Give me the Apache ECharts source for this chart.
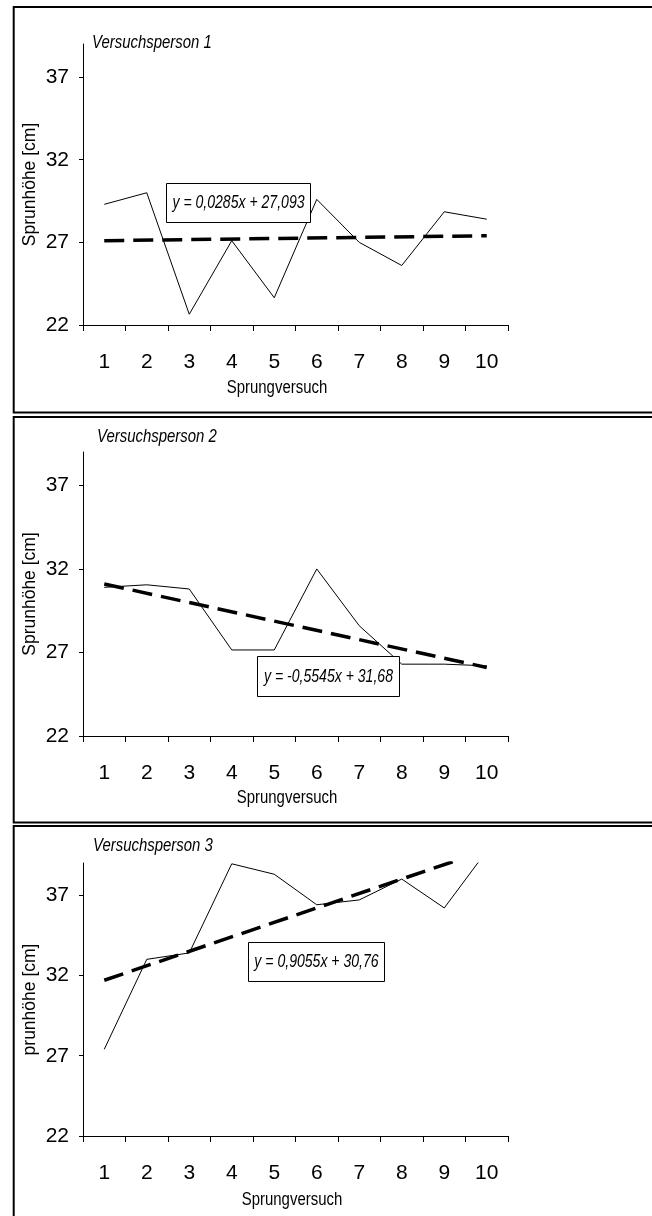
<!DOCTYPE html>
<html>
<head>
<meta charset="utf-8">
<script src="https://cdn.jsdelivr.net/npm/echarts@6/dist/echarts.min.js"></script>
<style>
html,body{margin:0;padding:0;background:#fff;}
#chart{width:652px;height:1216px;}
</style>
</head>
<body>
<div id="chart"></div>
<script>
const categories = ['1','2','3','4','5','6','7','8','9','10'];
const yTicks = [22, 27, 32, 37];
const panelTitles = ['Versuchsperson 1', 'Versuchsperson 2', 'Versuchsperson 3'];
const yNames = ['Sprunhöhe [cm]', 'Sprunhöhe [cm]', 'prunhöhe [cm]'];
const xName = 'Sprungversuch';
const equations = ['y = 0,0285x + 27,093', 'y = -0,5545x + 31,68', 'y = 0,9055x + 30,76'];

const person1 = [29.3, 30.0, 22.65, 27.1, 23.65, 29.6, 27.0, 25.6, 28.85, 28.4];
const person2 = [30.9, 31.05, 30.8, 27.15, 27.15, 32.0, 28.6, 26.3, 26.3, 26.2];
const person3 = [27.4, 33.0, 33.4, 38.95, 38.3, 36.4, 36.7, 38.0, 36.2, 39.75];

const trend1 = [27.1, 27.4];
const trend2 = [31.1, 26.1];
const trend3 = [31.7, 39.8];

const FONT = "'Liberation Sans', Arial, sans-serif";

const grids = [
  {left: 83, width: 425, top: 44, height: 281},
  {left: 83, width: 425, top: 452, height: 284},
  {left: 83, width: 425, top: 863, height: 273}
];
const titlePos = [{x: 92, y: 43}, {x: 97, y: 437}, {x: 93, y: 846}];
const xNamePos = [{x: 277, y: 388}, {x: 287, y: 798}, {x: 292, y: 1200}];
const boxes = [
  {x: 166, y: 183, w: 144, h: 39},
  {x: 257, y: 656, w: 142, h: 40},
  {x: 248, y: 942, w: 136, h: 39}
];
const frames = [
  {y: 7, h: 405.5},
  {y: 417, h: 405.5},
  {y: 826, h: 500}
];

const values = [person1, person2, person3];
const trends = [trend1, trend2, trend3];

const xAxes = [], yAxes = [], series = [], graphics = [];
for (let i = 0; i < 3; i++) {
  xAxes.push({
    type: 'category', gridIndex: i, data: categories, boundaryGap: true,
    axisLine: {lineStyle: {color: '#000', width: 1}},
    axisTick: {show: true, length: 6, alignWithLabel: false, lineStyle: {color: '#000'}},
    axisLabel: {color: '#000', fontSize: 21, fontFamily: FONT, margin: 27},
    splitLine: {show: false}
  });
  yAxes.push({
    type: 'value', gridIndex: i, min: 22, max: 39, interval: 5,
    axisLine: {show: true, lineStyle: {color: '#000', width: 1}},
    axisTick: {show: true, length: 4, customValues: yTicks, lineStyle: {color: '#000'}},
    axisLabel: {color: '#000', fontSize: 21, fontFamily: FONT, margin: 14, customValues: yTicks},
    name: yNames[i], nameLocation: 'middle', nameGap: 44, nameRotate: 90, nameMoveOverlap: false,
    nameTextStyle: {color: '#000', fontSize: 17.5, fontFamily: FONT},
    splitLine: {show: false}
  });
  series.push({
    type: 'line', xAxisIndex: i, yAxisIndex: i, data: values[i],
    showSymbol: false, symbol: 'none', clip: true,
    lineStyle: {color: '#000', width: 1}, z: 2
  });
  series.push({
    type: 'line', xAxisIndex: i, yAxisIndex: i,
    data: [[categories[0], trends[i][0]], [categories[categories.length - 1], trends[i][1]]],
    showSymbol: false, symbol: 'none', clip: true,
    lineStyle: {color: '#000', width: 3.5, type: [20, 9]}, z: 3
  });
  graphics.push({
    type: 'rect', shape: {x: 13.7, y: frames[i].y, width: 700, height: frames[i].h},
    style: {fill: null, stroke: '#000', lineWidth: 2}, z: 1, silent: true
  });
  graphics.push({
    type: 'text', x: titlePos[i].x, y: titlePos[i].y, scaleX: 0.83, z: 5,
    style: {text: panelTitles[i], fill: '#000', font: 'italic 18px ' + FONT, align: 'left', verticalAlign: 'middle'}
  });
  graphics.push({
    type: 'text', x: xNamePos[i].x, y: xNamePos[i].y, scaleX: 0.83, z: 5,
    style: {text: xName, fill: '#000', font: '18px ' + FONT, align: 'center', verticalAlign: 'middle'}
  });
  graphics.push({
    type: 'rect', shape: {x: boxes[i].x + 0.5, y: boxes[i].y + 0.5, width: boxes[i].w, height: boxes[i].h},
    style: {fill: '#fff', stroke: '#000', lineWidth: 1}, z: 10
  });
  graphics.push({
    type: 'text', x: boxes[i].x + boxes[i].w / 2 + 0.5, y: boxes[i].y + boxes[i].h / 2 + 0.5, scaleX: 0.76, z: 11,
    style: {text: equations[i], fill: '#000', font: 'italic 18.5px ' + FONT, align: 'center', verticalAlign: 'middle'}
  });
}

const chart = echarts.init(document.getElementById('chart'), null, {renderer: 'canvas'});
chart.setOption({
  animation: false,
  backgroundColor: '#fff',
  grid: grids,
  xAxis: xAxes,
  yAxis: yAxes,
  series: series,
  graphic: graphics
});
</script>
</body>
</html>
